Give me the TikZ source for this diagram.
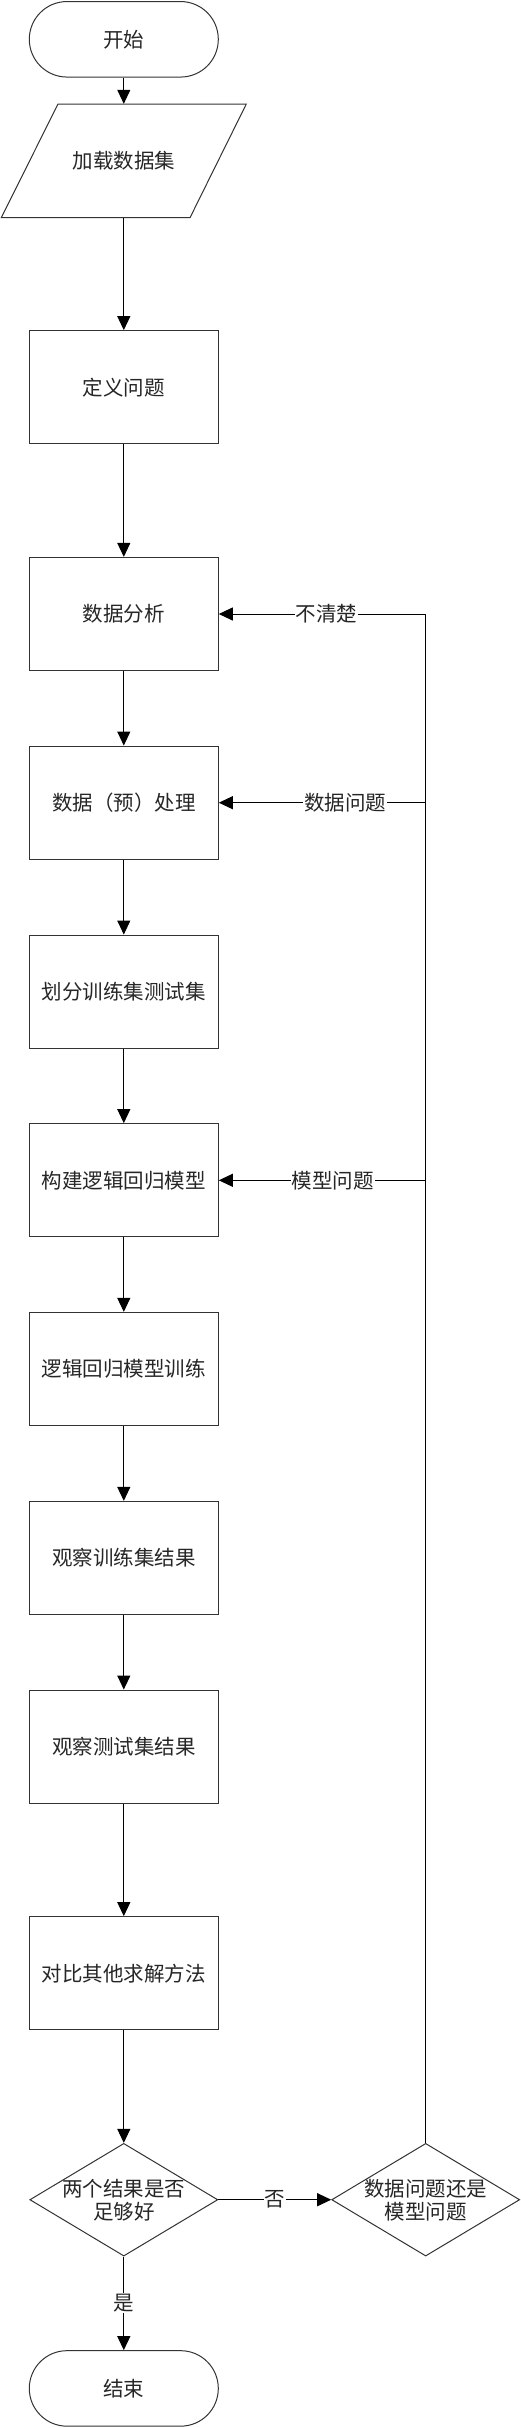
\documentclass[tikz,border=0pt]{standalone}
\usepackage{fontspec}
\newfontfamily\cjk{Noto Sans CJK SC}
\usetikzlibrary{arrows.meta,shapes.geometric}
\begin{document}
\begin{tikzpicture}[x=1pt,y=-1pt,
  every node/.style={font=\cjk\fontsize{20.5}{23}\selectfont, text=black!85},
  box/.style={draw=black!80, line width=1pt, minimum width=189pt, minimum height=113.3pt, inner sep=0pt},
  term/.style={draw=black!80, line width=1pt, minimum width=189pt, minimum height=75.5pt, rounded corners=37.7pt, inner sep=0pt},
  dia/.style={draw=black!80, line width=1pt, diamond, minimum width=188pt, minimum height=112.7pt, inner sep=0pt},
  arr/.style={draw=black, line width=1pt, -{Triangle[length=14pt,width=13pt]}},
  ln/.style={draw=black, line width=1pt},
  lab/.style={fill=white, inner sep=1pt}
]
\useasboundingbox[fill=white] (0,0) rectangle (521,2428);
\def\cx{123.8}
\node[term] (start) at (\cx,39.3) {开始};
\draw[black!80, line width=1pt] (58,104) -- (246.3,104) -- (190,217.7) -- (1.3,217.7) -- cycle;
\node[minimum width=189pt, minimum height=113.7pt, inner sep=0pt] (load) at (\cx,160.85) {加载数据集};
\node[box] (define) at (\cx,387.3) {定义问题};
\node[box] (analysis) at (\cx,614) {数据分析};
\node[box] (prep) at (\cx,802.7) {数据（预）处理};
\node[box] (split) at (\cx,991.7) {划分训练集测试集};
\node[box] (build) at (\cx,1180.3) {构建逻辑回归模型};
\node[box] (train) at (\cx,1369) {逻辑回归模型训练};
\node[box] (obstrain) at (\cx,1558) {观察训练集结果};
\node[box] (obstest) at (\cx,1746.7) {观察测试集结果};
\node[box] (compare) at (\cx,1973.3) {对比其他求解方法};
\node[dia] (d1) at (\cx,2199.7) {};
\node[align=center] (d1t) at (\cx,2199.7) {两个结果是否\\足够好};
\node[dia] (d2) at (425.7,2199.7) {};
\node[align=center] (d2t) at (425.7,2199.7) {数据问题还是\\模型问题};
\node[term] (end) at (\cx,2388.4) {结束};
\coordinate (top) at (425.7,614);

\draw[arr] (start) -- (load);
\draw[arr] (load) -- (define);
\draw[arr] (define) -- (analysis);
\draw[arr] (analysis) -- (prep);
\draw[arr] (prep) -- (split);
\draw[arr] (split) -- (build);
\draw[arr] (build) -- (train);
\draw[arr] (train) -- (obstrain);
\draw[arr] (obstrain) -- (obstest);
\draw[arr] (obstest) -- (compare);
\draw[arr] (compare) -- (d1);
\draw[arr] (d1) -- node[lab] (yes) {是} (end);
\draw[arr] (d1) -- node[lab] (no) {否} (d2);
\draw[ln] (d2.north) -- (top);
\draw[arr] (top) -- node[lab, pos=0.48] (l1) {不清楚} (analysis.east);
\draw[arr] (d2.north |- prep.east) -- node[lab, pos=0.39] (l2) {数据问题} (prep.east);
\draw[arr] (d2.north |- build.east) -- node[lab, pos=0.45] (l3) {模型问题} (build.east);
\end{tikzpicture}
\end{document}
